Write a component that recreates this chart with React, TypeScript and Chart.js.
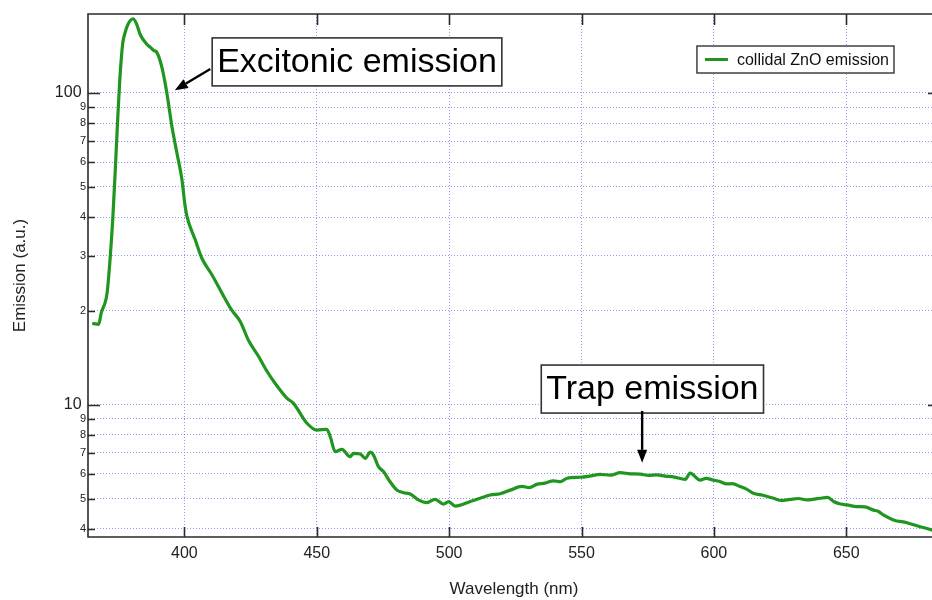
import React, { useEffect, useRef } from 'react';
import { Chart, registerables } from 'chart.js';

Chart.register(...registerables);

// ---- data ----
const wavelengths = [
  365.7, 367.6, 368.6, 370.8, 372.0, 373.0, 373.9, 374.8, 375.6, 376.7, 377.6, 378.3,
  379.4, 380.6, 381.9, 383.3, 385.9, 387.2, 388.4, 389.6, 391.5, 393.4, 395.3, 397.2,
  399.1, 400.3, 401.0, 404.1, 406.6, 410.4, 414.2, 417.9, 421.1, 424.2, 428.0, 431.2,
  434.3, 438.7, 441.2, 446.3, 450.1, 453.8, 455.1, 457.0, 459.5, 462.6, 463.9, 466.4,
  468.3, 470.2, 471.4, 473.3, 475.2, 477.7, 480.3, 482.8, 485.3, 488.4, 491.6, 494.7,
  497.9, 499.8, 502.3, 508.0, 511.7, 515.5, 519.3, 523.1, 527.5, 530.3, 533.1, 536.2,
  539.4, 542.0, 544.5, 549.5, 553.0, 557.1, 561.0, 564.6, 568.5, 572.2, 575.3, 578.5,
  581.6, 584.7, 589.2, 591.0, 594.8, 597.0, 599.8, 602.0, 604.9, 607.0, 609.9, 612.0,
  614.9, 618.5, 622.5, 625.5, 628.8, 632.0, 635.1, 638.0, 640.1, 643.0, 645.2, 647.8,
  650.2, 654.0, 657.0, 660.3, 662.0, 664.0, 667.8, 672.9, 677.9, 681.7, 683.5,
];
const emission = [
  18.2, 18.1, 19.7, 22.8, 29.8, 40.1, 56.6, 81.9, 110, 144, 156, 163,
  170, 173, 167, 154, 143, 140, 137, 135, 121, 99.8, 78, 64.1,
  52.6, 43.2, 40.1, 33.8, 29.5, 26.1, 22.8, 20.1, 18.5, 16.1, 14.3, 12.8,
  11.7, 10.5, 10.1, 8.72, 8.29, 8.34, 7.89, 7.07, 7.19, 6.81, 6.98, 6.95,
  6.73, 7.04, 6.9, 6.33, 6.1, 5.66, 5.32, 5.22, 5.17, 4.95, 4.85, 4.97,
  4.8, 4.89, 4.73, 4.89, 5.01, 5.13, 5.18, 5.32, 5.47, 5.42, 5.55, 5.6,
  5.7, 5.66, 5.81, 5.85, 5.9, 5.98, 5.94, 6.05, 6.0, 5.99, 5.93, 5.95,
  5.9, 5.87, 5.76, 6.03, 5.73, 5.8, 5.73, 5.68, 5.57, 5.58, 5.46, 5.38,
  5.2, 5.12, 5.01, 4.93, 4.97, 5.0, 4.95, 4.98, 5.01, 5.04, 4.89, 4.8,
  4.77, 4.71, 4.7, 4.59, 4.55, 4.43, 4.27, 4.18, 4.06, 3.98, 3.93,
];
const xTickValues = [400, 450, 500, 550, 600, 650];
const xTickLabels = ['400', '450', '500', '550', '600', '650'];
const yTickValues = [4, 5, 6, 7, 8, 9, 10, 20, 30, 40, 50, 60, 70, 80, 90, 100];
const yTickLabels = ['4', '5', '6', '7', '8', '9', '10', '2', '3', '4', '5', '6', '7', '8', '9', '100'];
const yMajorValues = [10, 100];
const xMin = 363.6;
const xMax = 685.4;
const yMin = 3.763;
const yMax = 179.2;
const seriesLabel = 'collidal ZnO emission';
const xTitle = 'Wavelength (nm)';
const yTitle = 'Emission (a.u.)';
const annotationTexts = ['Excitonic emission', 'Trap emission'];
// anchors in data coordinates: box top-left, arrow tail, arrow tip
const annotationAnchors = [
  { box: [410.5, 150.2], tail: [409.8, 119.4], tip: [396.4, 102] },
  { box: [534.8, 13.4], tail: [572.9, 9.55], tip: [572.9, 6.51] },
];

const FONT = '"Liberation Sans", Arial, Helvetica, sans-serif';
const GREEN = '#1f961f';
const FRAME = '#2a2a2a';

const isMajor = (v: number) => yMajorValues.includes(v);

const overlayPlugin = {
  id: 'overlay',
  afterDatasetsDraw(chart: any) {
    const { ctx, chartArea } = chart;
    const xs = chart.scales.x;
    const ys = chart.scales.y;
    const { left, right, top, bottom } = chartArea;
    ctx.save();
    // frame
    ctx.strokeStyle = FRAME;
    ctx.lineWidth = 1.6;
    ctx.beginPath();
    ctx.moveTo(left, top);
    ctx.lineTo(right, top);
    ctx.lineTo(right, bottom);
    ctx.lineTo(left, bottom);
    ctx.closePath();
    ctx.stroke();
    // x ticks (inward, bottom and top)
    xTickValues.forEach((v) => {
      const px = Math.round(xs.getPixelForValue(v)) + 0.5;
      ctx.beginPath();
      ctx.moveTo(px, bottom);
      ctx.lineTo(px, bottom - 10);
      ctx.moveTo(px, top);
      ctx.lineTo(px, top + 11);
      ctx.stroke();
    });
    // y ticks (inward, left and right)
    yTickValues.forEach((v) => {
      const py = Math.round(ys.getPixelForValue(v)) + 0.5;
      const len = isMajor(v) ? 12 : 7;
      ctx.beginPath();
      ctx.moveTo(left, py);
      ctx.lineTo(left + len, py);
      ctx.moveTo(right, py);
      ctx.lineTo(right - len, py);
      ctx.stroke();
    });

    // annotations
    annotationTexts.forEach((text, i) => {
      const a = annotationAnchors[i];
      ctx.font = `34px ${FONT}`;
      const tw = ctx.measureText(text).width;
      const bx = xs.getPixelForValue(a.box[0]);
      const by = ys.getPixelForValue(a.box[1]);
      const bw = tw + 10;
      const bh = 48;
      ctx.fillStyle = '#ffffff';
      ctx.fillRect(bx, by, bw, bh);
      ctx.strokeStyle = '#333333';
      ctx.lineWidth = 1.6;
      ctx.strokeRect(bx, by, bw, bh);
      ctx.fillStyle = '#000000';
      ctx.textBaseline = 'middle';
      ctx.textAlign = 'left';
      ctx.fillText(text, bx + 5, by + bh / 2 + 1);
      // arrow
      const tx = xs.getPixelForValue(a.tail[0]);
      const ty = ys.getPixelForValue(a.tail[1]);
      const hx = xs.getPixelForValue(a.tip[0]);
      const hy = ys.getPixelForValue(a.tip[1]);
      const ang = Math.atan2(hy - ty, hx - tx);
      const headLen = 13;
      const headW = 5;
      const baseX = hx - headLen * Math.cos(ang);
      const baseY = hy - headLen * Math.sin(ang);
      ctx.strokeStyle = '#000000';
      ctx.lineWidth = 2.4;
      ctx.beginPath();
      ctx.moveTo(tx, ty);
      ctx.lineTo(baseX, baseY);
      ctx.stroke();
      ctx.fillStyle = '#000000';
      ctx.beginPath();
      ctx.moveTo(hx, hy);
      ctx.lineTo(baseX + headW * Math.sin(ang), baseY - headW * Math.cos(ang));
      ctx.lineTo(baseX - headW * Math.sin(ang), baseY + headW * Math.cos(ang));
      ctx.closePath();
      ctx.fill();
    });

    // legend
    const ds = chart.data.datasets[0];
    ctx.font = `16px ${FONT}`;
    const lw = ctx.measureText(ds.label).width;
    const boxW = 8 + 23 + 9 + lw + 5;
    const boxH = 27;
    const boxR = right - 46;
    const boxL = boxR - boxW;
    const boxT = top + 32;
    ctx.fillStyle = '#ffffff';
    ctx.fillRect(boxL, boxT, boxW, boxH);
    ctx.strokeStyle = '#333333';
    ctx.lineWidth = 1.4;
    ctx.strokeRect(boxL, boxT, boxW, boxH);
    ctx.strokeStyle = ds.borderColor;
    ctx.lineWidth = 3;
    ctx.beginPath();
    ctx.moveTo(boxL + 8, boxT + boxH / 2);
    ctx.lineTo(boxL + 31, boxT + boxH / 2);
    ctx.stroke();
    ctx.fillStyle = '#111111';
    ctx.textBaseline = 'middle';
    ctx.textAlign = 'left';
    ctx.fillText(ds.label, boxL + 40, boxT + boxH / 2 + 1);
    ctx.restore();
  },
};

export default function App() {
  const canvasRef = useRef<HTMLCanvasElement | null>(null);

  useEffect(() => {
    if (!canvasRef.current) return;
    const points = wavelengths.map((w, i) => ({ x: w, y: emission[i] }));
    const chart = new Chart(canvasRef.current, {
      type: 'line',
      data: {
        datasets: [
          {
            label: seriesLabel,
            data: points,
            borderColor: GREEN,
            borderWidth: 3.2,
            pointRadius: 0,
            tension: 0.25,
            cubicInterpolationMode: 'monotone',
            fill: false,
            borderJoinStyle: 'round',
            borderCapStyle: 'round',
          },
        ],
      },
      options: {
        animation: false,
        responsive: false,
        devicePixelRatio: 1,
        layout: { padding: { top: 14, right: 1, left: 0, bottom: 0 } },
        plugins: { legend: { display: false }, tooltip: { enabled: false } },
        scales: {
          x: {
            type: 'linear',
            min: xMin,
            max: xMax,
            afterBuildTicks: (scale: any) => {
              scale.ticks = xTickValues.map((v) => ({ value: v }));
            },
            afterFit: (scale: any) => {
              scale.height = 63;
            },
            grid: {
              color: 'rgba(125,125,235,0.8)',
              lineWidth: 1,
              drawTicks: false,
            },
            border: { display: false, dash: [1, 2] },
            ticks: {
              padding: 7,
              color: '#222222',
              font: { family: FONT, size: 16 },
              maxRotation: 0,
              autoSkip: false,
              callback: (_v: any, i: number) => xTickLabels[i],
            },
            title: {
              display: true,
              text: xTitle,
              color: '#222222',
              font: { family: FONT, size: 17 },
              padding: { top: 0, bottom: 0 },
            },
          },
          y: {
            type: 'logarithmic',
            min: yMin,
            max: yMax,
            afterBuildTicks: (scale: any) => {
              scale.ticks = yTickValues.map((v) => ({ value: v }));
            },
            afterFit: (scale: any) => {
              scale.width = 88;
            },
            grid: {
              color: 'rgba(125,125,235,0.8)',
              lineWidth: 1,
              drawTicks: false,
            },
            border: { display: false, dash: [1, 2] },
            ticks: {
              padding: 2,
              color: '#222222',
              autoSkip: false,
              font: (ctx: any) => ({
                family: FONT,
                size: ctx.tick && isMajor(ctx.tick.value) ? 16 : 11,
              }),
              callback: (v: any, i: number) => yTickLabels[i] + (isMajor(v) ? ' ' : ''),
            },
            title: {
              display: true,
              text: yTitle,
              color: '#222222',
              font: { family: FONT, size: 17 },
              padding: { top: 10, bottom: 0 },
            },
          },
        },
      },
      plugins: [overlayPlugin],
    } as any);
    return () => chart.destroy();
  }, []);

  return (
    <div
      style={{
        position: 'fixed',
        left: 0,
        top: 0,
        width: 932,
        height: 600,
        overflow: 'hidden',
        background: '#ffffff',
      }}
    >
      <canvas ref={canvasRef} width={941} height={600} style={{ display: 'block' }} />
    </div>
  );
}
